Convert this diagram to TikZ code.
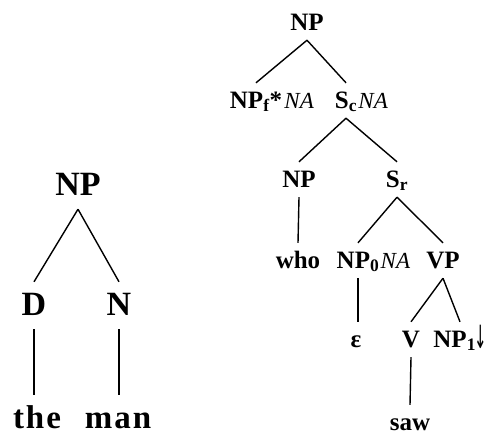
\documentclass[tikz,border=0pt]{standalone}
\usepackage{fontspec}
\usepackage{graphicx}
\setmainfont{Liberation Serif}
\newfontfamily\arrowfont{DejaVu Sans}
\usetikzlibrary{positioning}
\tikzset{
    mynode/.style = {inner sep=0pt, anchor=base, align=center, text=black, font=\fontsize{25bp}{28bp}\selectfont\bfseries, text height=25bp, text depth=10bp},
    mynodebig/.style = {inner sep=0pt, anchor=base, align=center, text=black, font=\fontsize{34bp}{38bp}\selectfont\bfseries, text height=33bp, text depth=14bp},
    mynodeword/.style = {mynodebig, font=\fontsize{33bp}{38bp}\selectfont\bfseries\addfontfeature{LetterSpace=6}},
    natag/.style = {inner sep=0pt, anchor=base west, xshift=2bp, text=black, font=\fontsize{23bp}{28bp}\selectfont\mdseries\itshape},
    edgen/.style = {-, line width=1.4bp, black},
}

\begin{document}
\begin{tikzpicture}[x=1bp,y=-1bp]
%
% left tree
\node[mynodebig] at (78,195) (npl) {NP};
\node[mynodebig] at (34,315) (d) {D};
\node[mynodebig] at (119,315) (n) {N};
\node[mynodeword] at (37,428) (the) {the};
\node[mynodeword] at (118,428) (man) {man};
%
% right tree
\node[mynode] at (307,30) (np) {NP};
\node[mynode] at (256,108) (npf) {NP\textsubscript{f}*};
\node[natag] at (npf.base east) (npfna) {NA};
\node[mynode] at (346,108) (sc) {S\textsubscript{c}};
\node[natag, xshift=-1bp] at (sc.base east) (scna) {NA};
\node[mynode] at (299,187) (npw) {NP};
\node[mynode] at (397,187) (sr) {S\textsubscript{r}};
\node[mynode] at (298,268) (who) {who};
\node[mynode] at (358,268) (npo) {NP\textsubscript{0}};
\node[natag, xshift=-1bp] at (npo.base east) (npona) {NA};
\node[mynode] at (443,268) (vp) {VP};
\node[mynode] at (356,347) (eps) {ε};
\node[mynode] at (411,347) (v) {V};
\node[mynode] at (460,347) (npi) {NP\textsubscript{1}\kern-2bp\raisebox{-1bp}{\scalebox{0.75}[1.6]{\arrowfont\mdseries\fontsize{20bp}{20bp}\selectfont↓}}};
\node[mynode] at (410,430) (saw) {saw};
%
\draw[edgen] (npl.south) -- (d.north);
\draw[edgen] (npl.south) -- (n.north);
\draw[edgen] (d.south) -- (d.south |- the.north);
\draw[edgen] (n.south) -- (n.south |- man.north);
%
\draw[edgen] (np.south) -- (npf.north);
\draw[edgen] (np.south) -- (sc.north);
\draw[edgen] (sc.south) -- (npw.north);
\draw[edgen] (sc.south) -- (sr.north);
\draw[edgen] (npw.south) -- (who.north);
\draw[edgen] (sr.south) -- (npo.north);
\draw[edgen] (sr.south) -- (vp.north);
\draw[edgen] (npo.south) -- (npo.south |- eps.north);
\draw[edgen] (vp.south) -- (v.north);
\draw[edgen] (vp.south) -- (npi.north);
\draw[edgen] (v.south) -- (saw.north);

\path[use as bounding box] (0,0) rectangle (489,435);

\end{tikzpicture}
\end{document}
